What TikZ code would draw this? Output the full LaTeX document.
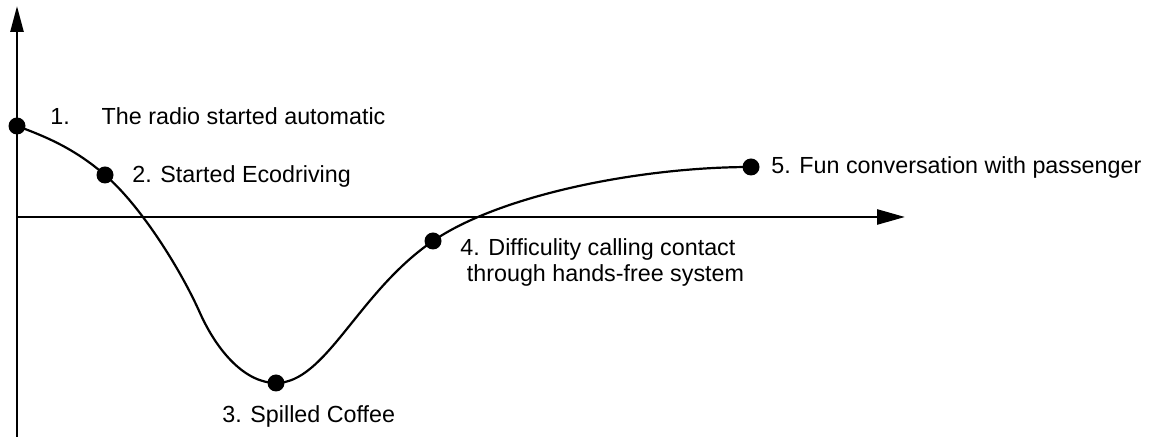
\documentclass[tikz,border=0pt]{standalone}
\usepackage{fontspec}
\setmainfont{Liberation Sans}
\usetikzlibrary{arrows.meta}
\begin{document}
\begin{tikzpicture}[x=0.5pt,y=-0.5pt,
  axis/.style={line width=1.3pt},
  curve/.style={line width=1.1pt},
  dot/.style={circle,fill=black,inner sep=0pt,minimum size=8.5pt},
  lbl/.style={anchor=base west,inner sep=0pt,font=\fontsize{11.65}{13}\selectfont}]
\useasboundingbox (0,0) rectangle (1151,437);
\coordinate (ybot) at (17,437);
\coordinate (ytop) at (17,6);
\coordinate (xl) at (17,217);
\coordinate (xr) at (905,217);
\draw[axis,-{Triangle[length=13pt,width=6.5pt]}] (ybot) -- (ytop);
\draw[axis,-{Triangle[length=14pt,width=7.5pt]}] (xl) -- (xr);
\node[dot] (p1) at (17,126) {};
\node[dot] (p2) at (105,175) {};
\node[dot] (p3) at (276,383) {};
\node[dot] (p4) at (433,241) {};
\node[dot] (p5) at (751,167) {};
\coordinate (m) at (200,313);
\draw[curve] (p1.center) .. controls (47,137) and (75,149) .. (p2.center)
  .. controls (140,205) and (180,268) .. (m)
  .. controls (218,353) and (246,383) .. (p3.center)
  .. controls (326,383) and (358,292) .. (p4.center)
  .. controls (500,195) and (640,167) .. (p5.center);
\node[lbl] (l1) at (50,125) {1.\hspace{1.37em}The radio started automatic};
\node[lbl] (l2) at (132,183) {2. Started Ecodriving};
\node[lbl] (l3) at (222,423) {3. Spilled Coffee};
\node[lbl,align=left] (l4) at (460,282) {4. Difficulity calling contact\\\hspace*{0.28em}through hands-free system};
\node[lbl] (l5) at (771,174) {5. Fun conversation with passenger};
\end{tikzpicture}
\end{document}
